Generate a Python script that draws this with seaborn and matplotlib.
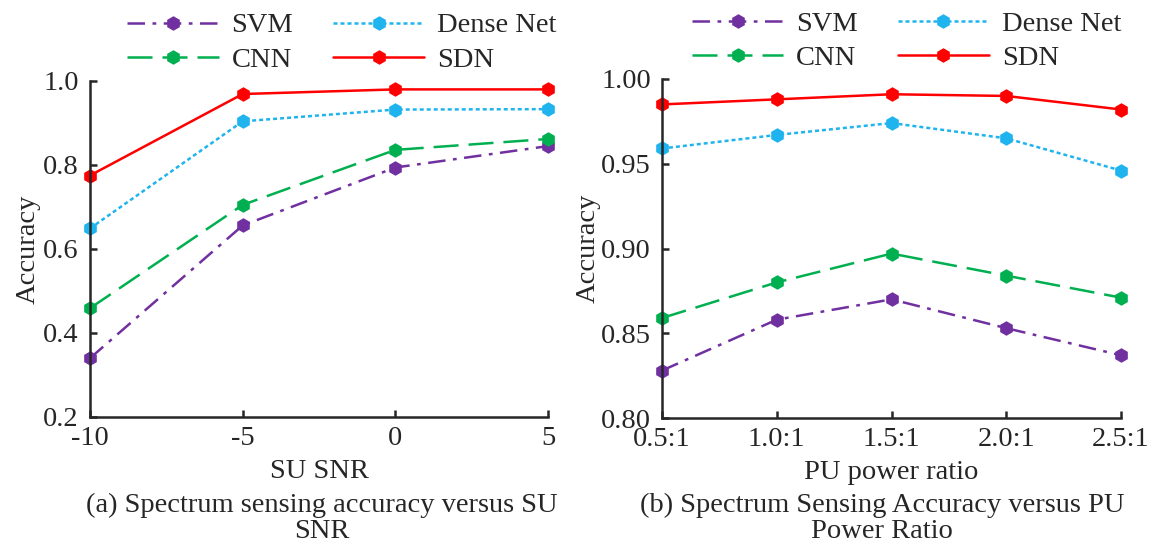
import numpy as np
import pandas as pd
import matplotlib
matplotlib.use("Agg")
import matplotlib.pyplot as plt
from matplotlib.ticker import FormatStrFormatter
import seaborn as sns

# ── Data ──────────────────────────────────────────────────────────────────────
MODELS = ["SVM", "CNN", "Dense Net", "SDN"]

snr_vals = [-10, -5, 0, 5]
snr_svm   = [0.340, 0.656, 0.794, 0.845]
snr_cnn   = [0.459, 0.705, 0.836, 0.862]
snr_dense = [0.649, 0.904, 0.932, 0.933]
snr_sdn   = [0.775, 0.969, 0.980, 0.980]

ratio_labels = ["0.5:1", "1.0:1", "1.5:1", "2.0:1", "2.5:1"]
ratio_svm   = [0.828, 0.858, 0.870, 0.853, 0.837]
ratio_cnn   = [0.859, 0.880, 0.897, 0.884, 0.871]
ratio_dense = [0.959, 0.967, 0.974, 0.965, 0.946]
ratio_sdn   = [0.985, 0.988, 0.991, 0.990, 0.982]

# ── Style ─────────────────────────────────────────────────────────────────────
sns.set_style("ticks")
plt.rcParams["font.family"] = ["Liberation Serif", "DejaVu Serif"]
plt.rcParams["axes.unicode_minus"] = False
FS = 20.5

palette = {"SVM": "#7030A0", "CNN": "#00B050", "Dense Net": "#1FB4EE", "SDN": "#FF0000"}
dashes  = {"SVM": (7, 3, 1.5, 3), "CNN": (10, 4), "Dense Net": (1.6, 1.2), "SDN": ""}
markers = {m: "h" for m in MODELS}


def long_df(x, series):
    rows = []
    for name, vals in zip(MODELS, series):
        for xi, v in zip(x, vals):
            rows.append({"x": xi, "acc": v, "model": name})
    return pd.DataFrame(rows)


df_a = long_df(snr_vals, [snr_svm, snr_cnn, snr_dense, snr_sdn])
df_b = long_df(list(range(len(ratio_labels))),
               [ratio_svm, ratio_cnn, ratio_dense, ratio_sdn])

fig = plt.figure(figsize=(11.64, 5.44), dpi=100)
ax_a = fig.add_axes([90 / 1164, 127 / 544, 458 / 1164, 336 / 544])
ax_b = fig.add_axes([662 / 1164, 126 / 544, 459 / 1164, 339 / 544])

for ax, df, lx in [(ax_a, df_a, 0.55), (ax_b, df_b, 0.533)]:
    sns.lineplot(data=df, x="x", y="acc", hue="model", style="model",
                 hue_order=MODELS, style_order=MODELS,
                 palette=palette, dashes=dashes, markers=markers,
                 markersize=10.5, markeredgewidth=0, linewidth=1.8,
                 legend=False, ax=ax, clip_on=False)
    sns.despine(ax=ax)
    for sp in ("left", "bottom"):
        ax.spines[sp].set_linewidth(1.8)
    ax.tick_params(direction="in", length=5, width=1.8, labelsize=FS)
    ax.tick_params(axis="x", pad=6.5)
    ax.tick_params(axis="y", pad=8)
    ax.set_ylabel("Accuracy", fontsize=FS)

    handles = ax.get_lines()[:4]
    ax.legend(handles, MODELS, ncol=2, frameon=False, fontsize=FS,
              loc="lower center", bbox_to_anchor=(lx, 0.99),
              handlelength=3.2, handletextpad=0.45, columnspacing=1.4,
              labelspacing=0.3, borderaxespad=0.0)

# (a) SU SNR
ax_a.set_xlim(-10, 5)
ax_a.set_ylim(0.2, 1.0)
ax_a.set_xticks(snr_vals)
ax_a.set_yticks([0.2, 0.4, 0.6, 0.8, 1.0])
ax_a.yaxis.set_major_formatter(FormatStrFormatter("%.1f"))
ax_a.set_xlabel("SU SNR", fontsize=FS, labelpad=5.5)
ax_a.yaxis.labelpad = 2

# (b) PU power ratio
ax_b.set_xlim(0, len(ratio_labels) - 1)
ax_b.set_ylim(0.80, 1.00)
ax_b.set_xticks(range(len(ratio_labels)))
ax_b.set_xticklabels(ratio_labels)
ax_b.set_yticks([0.80, 0.85, 0.90, 0.95, 1.00])
ax_b.yaxis.set_major_formatter(FormatStrFormatter("%.2f"))
ax_b.set_xlabel("PU power ratio", fontsize=FS, labelpad=5.5)
ax_b.yaxis.labelpad = 0

# captions
fig.text(322 / 1164, 1 - 493 / 544,
         "(a) Spectrum sensing accuracy versus SU\nSNR",
         ha="center", va="top", fontsize=FS, linespacing=1.05)
fig.text(882 / 1164, 1 - 493 / 544,
         "(b) Spectrum Sensing Accuracy versus PU\nPower Ratio",
         ha="center", va="top", fontsize=FS, linespacing=1.05)

fig.savefig("out.png", dpi=100)
